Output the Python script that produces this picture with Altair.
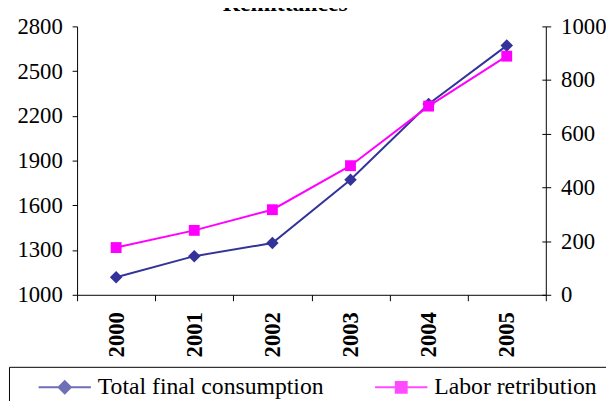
import altair as alt
import pandas as pd

# ---- data ----
years = ["2000", "2001", "2002", "2003", "2004", "2005"]
consumption = [1118, 1259, 1347, 1771, 2279, 2671]   # left axis
labor = [176, 240, 317, 481, 703, 889]               # right axis
series_names = ["Total final consumption", "Labor retribution"]
left_ticks = [1000, 1300, 1600, 1900, 2200, 2500, 2800]
right_ticks = [0, 200, 400, 600, 800, 1000]
title_text = "Remittances"

FONT = "'Liberation Serif', 'Times New Roman', Times, serif"
BLUE = "#333399"
PINK = "#FF00FF"

df_c = pd.DataFrame({"year": years, "value": consumption})
df_l = pd.DataFrame({"year": years, "value": labor})
df_leg = pd.DataFrame({"series": series_names})
df_one = pd.DataFrame({"k": [0]})

x_enc = alt.X(
    "year:O",
    bandPosition=0.5,
    scale=alt.Scale(type="band", paddingInner=0, paddingOuter=0),
    axis=alt.Axis(
        title=None, tickBand="extent", tickSize=6, labelAngle=-90,
        labelFont=FONT, labelFontSize=23, labelFontWeight="bold",
        labelPadding=11, labelColor="black", domainColor="black",
        tickColor="black", grid=False,
    ),
)

left_scale = alt.Scale(domain=[1000, 2800], nice=False, zero=False)
right_scale = alt.Scale(domain=[0, 1000], nice=False, zero=True)

left_y = alt.Y(
    "value:Q", scale=left_scale,
    axis=alt.Axis(
        orient="left", values=left_ticks, format="d", title=None, tickSize=5,
        labelPadding=10, labelFont=FONT, labelFontSize=23,
        labelColor="black", domainColor="black", tickColor="black", grid=False,
    ),
)
right_y = alt.Y(
    "value:Q", scale=right_scale,
    axis=alt.Axis(
        orient="right", values=right_ticks, format="d", title=None, tickSize=5,
        labelPadding=10, labelFont=FONT, labelFontSize=23,
        labelColor="black", domainColor="black", tickColor="black", grid=False,
    ),
)
right_inner_y = alt.Y(
    "value:Q", scale=right_scale,
    axis=alt.Axis(
        orient="right", values=right_ticks, title=None, tickSize=4, offset=-4,
        labels=False, domain=False, tickColor="black", grid=False,
    ),
)

blue_line = alt.Chart(df_c).mark_line(color=BLUE, strokeWidth=2).encode(x=x_enc, y=left_y)
blue_pts = alt.Chart(df_c).mark_point(
    shape="diamond", filled=True, color=BLUE, size=161, opacity=1
).encode(x=x_enc, y=left_y)
left = alt.layer(blue_line, blue_pts)

pink_line = alt.Chart(df_l).mark_line(color=PINK, strokeWidth=2).encode(x=x_enc, y=right_y)
pink_pts = alt.Chart(df_l).mark_point(
    shape="square", filled=True, color=PINK, size=121, opacity=1
).encode(x=x_enc, y=right_y)
right = alt.layer(pink_line, pink_pts)

inner_ticks = alt.Chart(df_l).mark_point(opacity=0).encode(x=x_enc, y=right_inner_y)

diamond_path = "M-1,0H1M0,-0.234L0.234,0L0,0.234L-0.234,0Z"
square_path = "M-1,0H1M-0.208,-0.208H0.208V0.208H-0.208Z"

leg = alt.Legend(
    title=None, orient="none", legendX=-40, legendY=338,
    direction="horizontal", columns=2, columnPadding=48,
    labelFont=FONT, labelFontSize=24, labelColor="black", labelOffset=6,
    labelLimit=0, symbolSize=2809, symbolStrokeWidth=2, padding=0,
)
legend_layer = alt.Chart(df_leg).mark_point(filled=True, size=2809, strokeWidth=2).encode(
    x=alt.value(-2000), y=alt.value(-2000),
    color=alt.Color("series:N", scale=alt.Scale(domain=series_names, range=[BLUE, PINK]), legend=leg),
    stroke=alt.Stroke("series:N", scale=alt.Scale(domain=series_names, range=[BLUE, PINK]), legend=leg),
    shape=alt.Shape("series:N", scale=alt.Scale(domain=series_names, range=[diamond_path, square_path]), legend=leg),
)

box = alt.Chart(df_one).mark_rect(fillOpacity=0, stroke="black", strokeWidth=1).encode(
    x=alt.value(-68.5), x2=alt.value(700), y=alt.value(345.5), y2=alt.value(600)
)

title = alt.Chart(df_one).mark_text(
    text=title_text, font=FONT, fontSize=24, fontWeight="bold",
    align="center", baseline="alphabetic", color="black",
).encode(x=alt.value(211), y=alt.value(-16))

chart = alt.layer(left, right, inner_ticks, box, legend_layer, title).resolve_scale(
    y="independent"
).properties(
    width=475, height=272,
    autosize=alt.AutoSizeParams(type="none"),
    padding={"left": 70, "top": 16, "right": 61, "bottom": 105},
    background="white",
).configure_view(stroke=None)

chart.save("out.html", embed_options={"renderer": "svg", "actions": False})
